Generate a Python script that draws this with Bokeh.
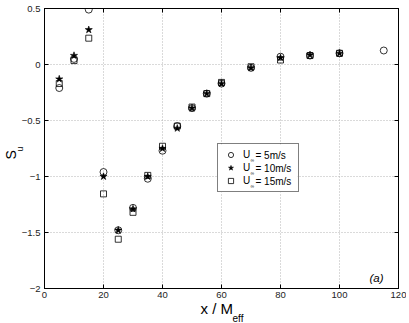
from bokeh.plotting import figure
from bokeh.models import (Range1d, SingleIntervalTicker, LinearAxis, Legend, LegendItem, Label, Title,
                          BoxAnnotation)
from bokeh.embed import file_html
from bokeh.resources import INLINE

# data
x_5 = [5, 10, 15, 20, 25, 30, 35, 40, 45, 50, 55, 60, 70, 80, 90, 100, 115]
su_5 = [-0.21, 0.05, 0.49, -0.96, -1.48, -1.28, -1.02, -0.77, -0.55, -0.39, -0.26, -0.17, -0.03, 0.07, 0.08, 0.10, 0.125]
x_10 = [5, 10, 15, 20, 25, 30, 35, 40, 45, 50, 55, 60, 70, 80, 90, 100]
su_10 = [-0.13, 0.08, 0.31, -1.0, -1.48, -1.29, -1.0, -0.75, -0.57, -0.39, -0.26, -0.17, -0.03, 0.06, 0.085, 0.10]
x_15 = [5, 10, 15, 20, 25, 30, 35, 40, 45, 50, 55, 60, 70, 80, 90, 100]
su_15 = [-0.17, 0.035, 0.235, -1.155, -1.56, -1.32, -0.99, -0.73, -0.55, -0.38, -0.26, -0.16, -0.02, 0.04, 0.08, 0.10]

series_speeds = ["= 5m/s", "= 10m/s", "= 15m/s"]
y_ticks = [-2, -1.5, -1, -0.5, 0, 0.5]
y_tick_labels = ["\u22122", "\u22121.5", "\u22121", "\u22120.5", "0", "0.5"]

FONT = "Liberation Sans"

p = figure(frame_width=354, frame_height=280, min_border_left=44, min_border_right=8,
           min_border_top=8, min_border_bottom=34,
           output_backend="svg", toolbar_location=None,
           x_range=Range1d(0, 120), y_range=Range1d(-2, 0.5))
p.background_fill_color = "white"
p.border_fill_color = "white"
p.outline_line_color = "black"
p.outline_line_width = 1

p.xaxis.ticker = SingleIntervalTicker(interval=20)
p.yaxis.ticker = SingleIntervalTicker(interval=0.5)
p.yaxis.major_label_overrides = {float(t): l for t, l in zip(y_ticks, y_tick_labels)}
for ax in (p.xaxis[0], p.yaxis[0]):
    ax.major_tick_in = 4
    ax.major_tick_out = 0
    ax.minor_tick_in = 0
    ax.minor_tick_out = 0
    ax.axis_line_color = "black"
    ax.major_tick_line_color = "black"
    ax.major_label_text_font = FONT
    ax.major_label_text_font_size = "9.5px"
    ax.major_label_text_color = "#222222"
p.xaxis.major_label_standoff = 3
p.yaxis.major_label_standoff = 4

for side in ("above", "right"):
    ax = LinearAxis(ticker=SingleIntervalTicker(interval=20 if side == "above" else 0.5),
                    major_tick_in=4, major_tick_out=0, minor_tick_in=0, minor_tick_out=0,
                    major_label_text_font_size="0px", major_label_standoff=0,
                    axis_line_color="black", major_tick_line_color="black")
    p.add_layout(ax, side)

p.xgrid.grid_line_color = "#b4b4b4"
p.ygrid.grid_line_color = "#b4b4b4"
p.xgrid.grid_line_dash = "1 2"
p.ygrid.grid_line_dash = "1 2"

# white backing for the legend box (hides grid lines), drawn before the texts
p.add_layout(BoxAnnotation(left=173, right=253, bottom=96, top=144,
                           left_units="screen", right_units="screen",
                           bottom_units="screen", top_units="screen",
                           fill_color="white", fill_alpha=1, line_color=None, level="underlay"))

r1 = p.scatter(x_5, su_5, marker="circle", size=7, fill_color=None, line_color="black", line_width=0.8)
r2 = p.scatter(x_10, su_10, marker="star", size=7.5, fill_color="black", line_color="black", line_width=0.6)
r3 = p.scatter(x_15, su_15, marker="square", size=6, fill_color=None, line_color="black", line_width=0.8)

legend = Legend(items=[LegendItem(label="U", renderers=[r]) for r in (r1, r2, r3)],
                location=(173, 96), glyph_width=17, glyph_height=13, label_height=13,
                spacing=0, padding=4, margin=0, label_standoff=4, label_width=51,
                border_line_color="black", border_line_width=1, background_fill_alpha=0,
                label_text_font=FONT, label_text_font_size="10px", label_text_color="black")
p.add_layout(legend, "center")

row_y = [133.5, 120.5, 107.5]
for yy, txt in zip(row_y, series_speeds):
    p.add_layout(Label(x=206, y=yy - 5, x_units="screen", y_units="screen", text="\u221e",
                       text_font=FONT, text_font_size="5px", text_baseline="middle",
                       text_color="black"))
    p.add_layout(Label(x=211, y=yy, x_units="screen", y_units="screen", text=txt,
                       text_font=FONT, text_font_size="10px", text_baseline="middle",
                       text_color="black"))

p.add_layout(Label(x=325, y=11, x_units="screen", y_units="screen", text="(a)",
                   text_font=FONT, text_font_size="11.5px", text_font_style="italic",
                   text_baseline="middle", text_color="black"))

# axis titles (side panels, not clipped)
p.add_layout(Title(text="x / M", align="left", offset=156, standoff=-5, text_color="black",
                   text_font=FONT, text_font_size="15px", text_font_style="normal"), "below")
p.add_layout(Title(text="eff", align="left", offset=188, standoff=-8, text_color="black",
                   text_font=FONT, text_font_size="10px", text_font_style="normal"), "below")
p.add_layout(Title(text="u", align="left", offset=137, standoff=-13, text_color="black",
                   text_font=FONT, text_font_size="9px", text_font_style="normal"), "left")
p.add_layout(Title(text="S", align="left", offset=129, standoff=0, text_color="black",
                   text_font=FONT, text_font_size="14px", text_font_style="normal"), "left")

open("out.html", "w").write(file_html(p, INLINE))
